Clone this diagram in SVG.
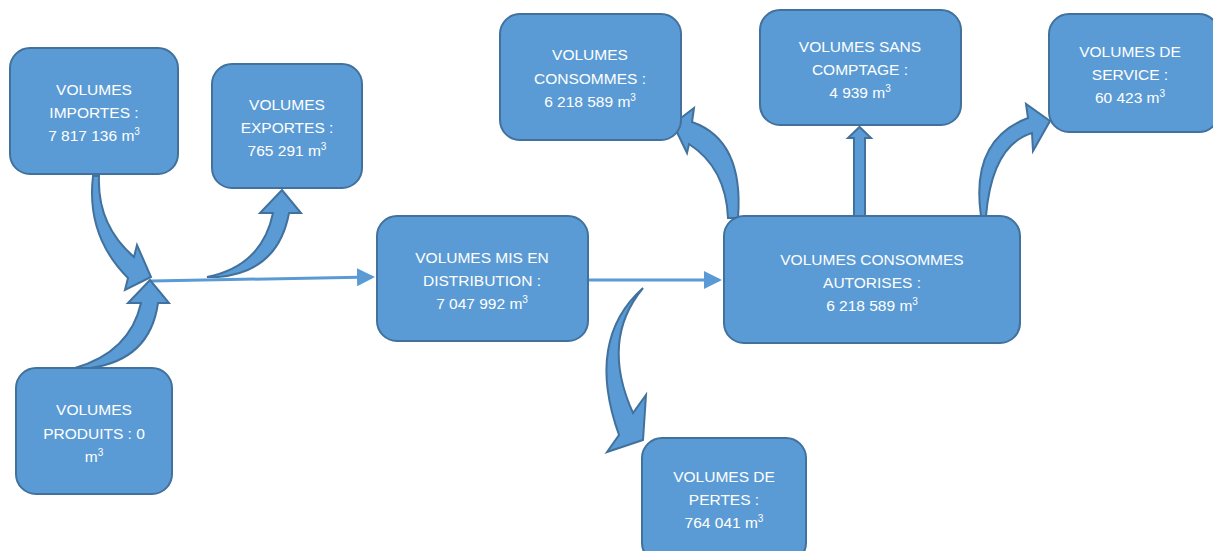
<svg xmlns="http://www.w3.org/2000/svg" width="1213" height="551" viewBox="0 0 1213 551">
<defs>
<style>
.box{fill:#5B9BD5;stroke:#41719C;stroke-width:2}
.t{fill:#fff;font-family:"Liberation Sans",Arial,sans-serif;font-size:15.5px;text-anchor:middle}
.sup{font-size:10px}
.ca{fill:#5B9BD5;stroke:#41719C;stroke-width:2;stroke-linejoin:miter}
.ln{stroke:#5B9BD5;stroke-width:3;fill:none}
</style>
<marker id="ah" markerWidth="6" markerHeight="6" refX="5" refY="3" orient="auto" markerUnits="strokeWidth">
<path d="M0,0 L6,3 L0,6 Z" fill="#5B9BD5"/>
</marker>
</defs>
<rect width="1213" height="551" fill="#fff"/>
<g id="connectors">
<line class="ln" x1="151" y1="281" x2="372" y2="277" marker-end="url(#ah)"/>
<line class="ln" x1="589" y1="280" x2="719" y2="280" marker-end="url(#ah)"/>
<path class="ca" d="M93,176 Q86,236 128,278 L125,290 L151,277 L137,245 L134,257 Q97,225 99,176 Z"/>
<path class="ca" d="M75,368 Q130,352 141,303 L128,303 L150,280 L169,303 L158,303 Q150,360 90,368 Z"/>
<path class="ca" d="M207,277 Q262,266 273,213 L260,213 L282,190 L301,213 L289,213 Q278,272 218,277 Z"/>
<path class="ca" d="M643,288 Q585,340 619,435 L607,452 L643,440 L646,395 L633,413 Q600,340 643,288 Z"/>
<path class="ca" d="M728,218 Q726,168 689,144 L687,153 L673,124 L694,108 L692,122 Q744,140 738,218 Z"/>
<path class="ca" d="M981,216 Q970,140 1028,118 L1026,104 L1050,121 L1033,151 L1032,133 Q992,145 986,216 Z"/>
<path class="ca" d="M854,216 L854,138 L848,138 L859.5,127 L871,138 L865,138 L865,216 Z"/>
</g>
<g id="importes"><rect class="box" x="10" y="48" width="168" height="126" rx="20"/>
<text class="t" x="94" y="95">VOLUMES</text><text class="t" x="94" y="118">IMPORTES :</text><text class="t" x="94" y="141">7 817 136 m<tspan class="sup" dy="-6">3</tspan></text></g>
<g id="exportes"><rect class="box" x="212" y="64" width="150" height="124" rx="20"/>
<text class="t" x="287" y="110">VOLUMES</text><text class="t" x="287" y="133">EXPORTES :</text><text class="t" x="287" y="156">765 291 m<tspan class="sup" dy="-6">3</tspan></text></g>
<g id="produits"><rect class="box" x="16" y="368" width="156" height="126" rx="20"/>
<text class="t" x="94" y="415">VOLUMES</text><text class="t" x="94" y="439">PRODUITS : 0</text><text class="t" x="94" y="462">m<tspan class="sup" dy="-6">3</tspan></text></g>
<g id="distribution"><rect class="box" x="377" y="216" width="211" height="125" rx="20"/>
<text class="t" x="482" y="263">VOLUMES MIS EN</text><text class="t" x="482" y="286">DISTRIBUTION :</text><text class="t" x="482" y="309">7 047 992 m<tspan class="sup" dy="-6">3</tspan></text></g>
<g id="autorises"><rect class="box" x="724" y="216" width="296" height="127" rx="20"/>
<text class="t" x="872" y="265">VOLUMES CONSOMMES</text><text class="t" x="872" y="288">AUTORISES :</text><text class="t" x="872" y="311">6 218 589 m<tspan class="sup" dy="-6">3</tspan></text></g>
<g id="consommes"><rect class="box" x="500" y="14" width="181" height="126" rx="20"/>
<text class="t" x="590" y="60">VOLUMES</text><text class="t" x="590" y="84">CONSOMMES :</text><text class="t" x="590" y="107">6 218 589 m<tspan class="sup" dy="-6">3</tspan></text></g>
<g id="sanscomptage"><rect class="box" x="760" y="10" width="201" height="115" rx="20"/>
<text class="t" x="860" y="52">VOLUMES SANS</text><text class="t" x="860" y="75">COMPTAGE :</text><text class="t" x="860" y="98">4 939 m<tspan class="sup" dy="-6">3</tspan></text></g>
<g id="service"><rect class="box" x="1049" y="14" width="170" height="118" rx="20"/>
<text class="t" x="1130" y="57">VOLUMES DE</text><text class="t" x="1130" y="80">SERVICE :</text><text class="t" x="1130" y="103">60 423 m<tspan class="sup" dy="-6">3</tspan></text></g>
<g id="pertes"><rect class="box" x="642" y="438" width="164" height="125" rx="20"/>
<text class="t" x="724" y="482">VOLUMES DE</text><text class="t" x="724" y="505">PERTES :</text><text class="t" x="724" y="528">764 041 m<tspan class="sup" dy="-6">3</tspan></text></g>
</svg>
